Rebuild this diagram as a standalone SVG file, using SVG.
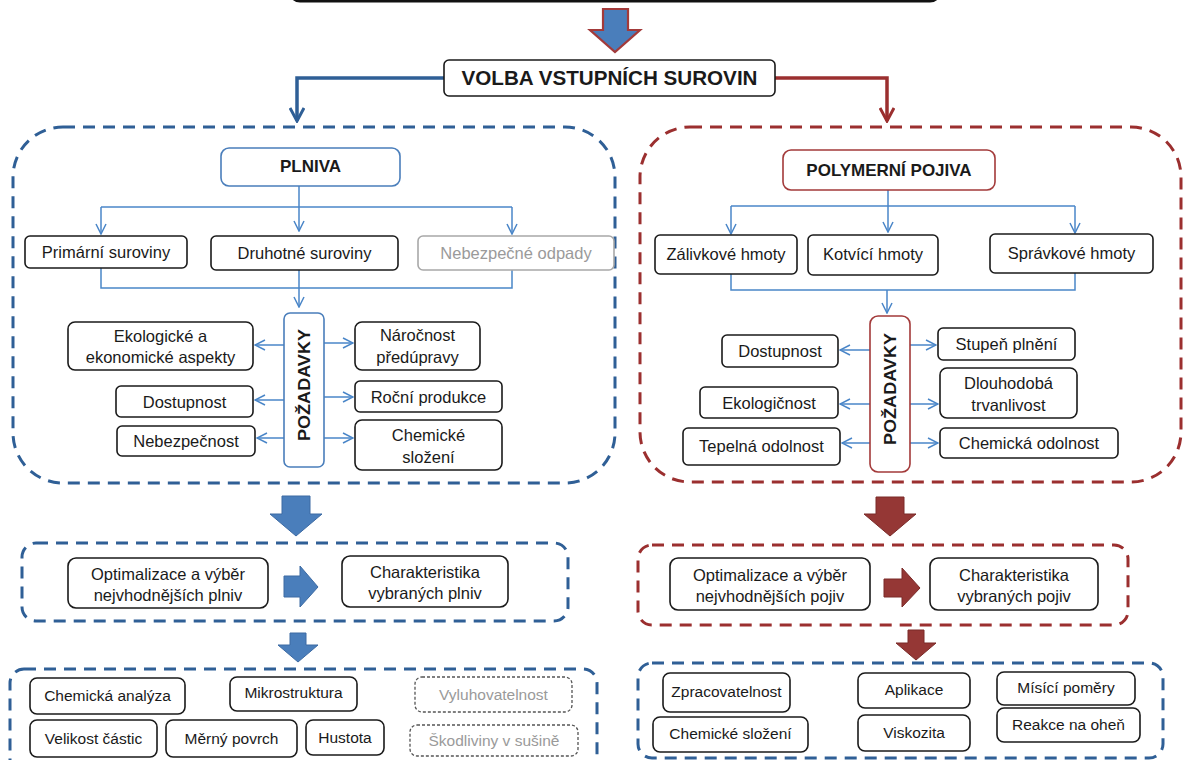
<svg xmlns="http://www.w3.org/2000/svg" width="1192" height="760" viewBox="0 0 1192 760">
  <defs>
    <style>
      text { font-family: "Liberation Sans", Arial, sans-serif; font-size: 16.5px; fill: #1a1a1a; text-anchor: middle; }
      .b { font-weight: bold; font-size: 17px; }
      .sm { font-size: 15.5px; }
      .gray { fill: #9a9a9a; }
      .box { fill: #fff; stroke: #1a1a1a; stroke-width: 1.6; }
      .gbox { fill: #fff; stroke: #a8a8a8; stroke-width: 1.6; }
      .dbox { fill: #fff; stroke: #555; stroke-width: 1.3; stroke-dasharray: 3 2; }
      .bluebox { fill: #fff; stroke: #4a7ebb; stroke-width: 1.6; }
      .redbox { fill: #fff; stroke: #a33a3a; stroke-width: 1.6; }
      .panelB { fill: none; stroke: #2f5f96; stroke-width: 3; stroke-dasharray: 12 8; }
      .panelR { fill: none; stroke: #9b2f2f; stroke-width: 3; stroke-dasharray: 12 8; }
      .thin { fill: none; stroke: #4a86c8; stroke-width: 1.5; }
      .mainB { fill: none; stroke: #2f5f96; stroke-width: 3.5; }
      .mainR { fill: none; stroke: #9b2f2f; stroke-width: 3.5; }
      .blkB { fill: #4a7ebb; stroke: #3c6aa3; stroke-width: 1; }
      .blkR { fill: #953735; stroke: #7a2a28; stroke-width: 1; }
      .blkTop { fill: #4a7ebb; stroke: #a33a3a; stroke-width: 2.2; }
    </style>
    <marker id="ah" viewBox="0 0 12 12" refX="11" refY="6" markerWidth="12" markerHeight="12" markerUnits="userSpaceOnUse" orient="auto">
      <path d="M1,1 L11,6 L1,11" fill="none" stroke="#4a86c8" stroke-width="1.5"/>
    </marker>
    <marker id="ahB" viewBox="0 0 16 16" refX="14" refY="8" markerWidth="16" markerHeight="16" markerUnits="userSpaceOnUse" orient="auto">
      <path d="M1,1 L14,8 L1,15" fill="none" stroke="#2f5f96" stroke-width="3"/>
    </marker>
    <marker id="ahR" viewBox="0 0 16 16" refX="14" refY="8" markerWidth="16" markerHeight="16" markerUnits="userSpaceOnUse" orient="auto">
      <path d="M1,1 L14,8 L1,15" fill="none" stroke="#9b2f2f" stroke-width="3"/>
    </marker>
  </defs>

  <rect width="1192" height="760" fill="#fff"/>

  <!-- header box (only its lower edge is in view) -->
  <g id="header">
    <rect x="290" y="-40" width="650" height="41" rx="10" fill="#fff" stroke="#111" stroke-width="3"/>
  </g>

  <!-- panels -->
  <g id="panels">
    <rect id="panel-plniva" class="panelB" x="13" y="127" width="602" height="356" rx="50"/>
    <rect id="panel-pojiva" class="panelR" x="640" y="127" width="541" height="355" rx="50"/>
    <rect id="panel-opt-plniva" class="panelB" x="22" y="543" width="546" height="78" rx="14"/>
    <rect id="panel-opt-pojiva" class="panelR" x="638" y="545" width="490" height="80" rx="14"/>
    <rect id="panel-char-plniva" class="panelB" x="10" y="669" width="587" height="110" rx="14"/>
    <rect id="panel-char-pojiva" class="panelB" x="638" y="663" width="525" height="95" rx="14"/>
  </g>

  <!-- connectors -->
  <g id="connectors">
    <polygon class="blkTop" points="603,9 628,9 628,30 640,30 615,52 590,30 603,30"/>
    <path class="mainB" d="M444,78 H297 V121" marker-end="url(#ahB)"/>
    <path class="mainR" d="M775,78 H887 V121" marker-end="url(#ahR)"/>

    <!-- plniva tree -->
    <path class="thin" d="M299,186 V231" marker-end="url(#ah)"/>
    <path class="thin" d="M101,207 H512"/>
    <path class="thin" d="M101,207 V234" marker-end="url(#ah)"/>
    <path class="thin" d="M512,207 V234" marker-end="url(#ah)"/>
    <path class="thin" d="M101,268 V288 H512 V270"/>
    <path class="thin" d="M299,270 V307" marker-end="url(#ah)"/>
    <path class="thin" d="M284,345 H255" marker-end="url(#ah)"/>
    <path class="thin" d="M284,400 H255" marker-end="url(#ah)"/>
    <path class="thin" d="M284,438 H257" marker-end="url(#ah)"/>
    <path class="thin" d="M324,343 H353" marker-end="url(#ah)"/>
    <path class="thin" d="M324,397 H353" marker-end="url(#ah)"/>
    <path class="thin" d="M324,438 H353" marker-end="url(#ah)"/>

    <!-- pojiva tree -->
    <path class="thin" d="M888,190 V232" marker-end="url(#ah)"/>
    <path class="thin" d="M731,206 H1075"/>
    <path class="thin" d="M731,206 V234" marker-end="url(#ah)"/>
    <path class="thin" d="M1075,206 V233" marker-end="url(#ah)"/>
    <path class="thin" d="M731,274 V290 H1075 V273"/>
    <path class="thin" d="M887,290 V313" marker-end="url(#ah)"/>
    <path class="thin" d="M870,350 H840" marker-end="url(#ah)"/>
    <path class="thin" d="M870,404 H840" marker-end="url(#ah)"/>
    <path class="thin" d="M870,443 H842" marker-end="url(#ah)"/>
    <path class="thin" d="M910,345 H936" marker-end="url(#ah)"/>
    <path class="thin" d="M910,404 H938" marker-end="url(#ah)"/>
    <path class="thin" d="M910,443 H938" marker-end="url(#ah)"/>

    <!-- block arrows -->
    <polygon class="blkB" points="282,496 310,496 310,514 322,514 296,536 270,514 282,514"/>
    <polygon class="blkR" points="876,497 904,497 904,514 916,514 890,536 864,514 876,514"/>
    <polygon class="blkB" points="284,576 300,576 300,566 318,587 300,607 300,597 284,597"/>
    <polygon class="blkR" points="884,579 902,579 902,568 920,588 902,607 902,597 884,597"/>
    <polygon class="blkB" points="290,633 306,633 306,645 318,645 298,662 278,645 290,645"/>
    <polygon class="blkR" points="908,630 924,630 924,643 936,643 916,660 896,643 908,643"/>
  </g>

  <g id="volba">
    <rect class="box" x="444" y="60" width="331" height="36" rx="5"/>
    <text class="b" x="609.5" y="85" style="font-size:20px" textLength="296" lengthAdjust="spacingAndGlyphs">VOLBA VSTUPNÍCH SUROVIN</text>
  </g>

  <!-- plniva panel -->
  <g id="plniva">
    <rect class="bluebox" x="221" y="148" width="179" height="38" rx="8"/>
    <text class="b" x="310.5" y="172">PLNIVA</text>
  </g>
  <g id="primarni"><rect class="box" x="25" y="236" width="162" height="32" rx="5"/><text x="106" y="258">Primární suroviny</text></g>
  <g id="druhotne"><rect class="box" x="211" y="236" width="187" height="34" rx="5"/><text x="304.5" y="259">Druhotné suroviny</text></g>
  <g id="nebezpecne-odpady"><rect class="gbox" x="418" y="236" width="196" height="34" rx="5"/><text class="gray" x="516" y="259">Nebezpečné odpady</text></g>
  <g id="pozadavky-plniva">
    <rect class="bluebox" x="284" y="313" width="40" height="154" rx="6"/>
    <text class="b" transform="translate(310,385) rotate(-90)" textLength="112" lengthAdjust="spacingAndGlyphs">POŽADAVKY</text>
  </g>
  <g id="ekolog-aspekty"><rect class="box" x="68" y="322" width="185" height="48" rx="7"/><text x="160.5" y="342">Ekologické a</text><text x="160.5" y="363">ekonomické aspekty</text></g>
  <g id="dostupnost-p"><rect class="box" x="116" y="386" width="137" height="31" rx="5"/><text x="184.5" y="408">Dostupnost</text></g>
  <g id="nebezpecnost"><rect class="box" x="117" y="426" width="138" height="30" rx="5"/><text x="186" y="447">Nebezpečnost</text></g>
  <g id="narocnost"><rect class="box" x="355" y="322" width="125" height="48" rx="7"/><text x="417.5" y="341">Náročnost</text><text x="417.5" y="363">předúpravy</text></g>
  <g id="rocni-produkce"><rect class="box" x="355" y="381" width="147" height="31" rx="5"/><text x="428.5" y="403">Roční produkce</text></g>
  <g id="chem-slozeni-p"><rect class="box" x="355" y="420" width="147" height="50" rx="7"/><text x="428.5" y="441">Chemické</text><text x="428.5" y="463">složení</text></g>

  <!-- pojiva panel -->
  <g id="pojiva">
    <rect class="redbox" x="783" y="150" width="212" height="40" rx="8"/>
    <text class="b" x="889" y="176">POLYMERNÍ POJIVA</text>
  </g>
  <g id="zalivkove"><rect class="box" x="655" y="235" width="142" height="39" rx="5"/><text x="726" y="260">Zálivkové hmoty</text></g>
  <g id="kotvici"><rect class="box" x="808" y="235" width="130" height="40" rx="5"/><text x="873" y="260">Kotvící hmoty</text></g>
  <g id="spravkove"><rect class="box" x="990" y="234" width="163" height="39" rx="5"/><text x="1071.5" y="259">Správkové hmoty</text></g>
  <g id="pozadavky-pojiva">
    <rect class="redbox" x="870" y="316" width="40" height="156" rx="8"/>
    <text class="b" transform="translate(896,389) rotate(-90)" textLength="112" lengthAdjust="spacingAndGlyphs">POŽADAVKY</text>
  </g>
  <g id="dostupnost-j"><rect class="box" x="722" y="335" width="116" height="32" rx="5"/><text x="780" y="357">Dostupnost</text></g>
  <g id="ekologicnost"><rect class="box" x="700" y="387" width="138" height="31" rx="5"/><text x="769" y="409">Ekologičnost</text></g>
  <g id="tepelna"><rect class="box" x="683" y="428" width="157" height="37" rx="5"/><text x="761.5" y="452">Tepelná odolnost</text></g>
  <g id="stupen"><rect class="box" x="938" y="328" width="137" height="32" rx="5"/><text x="1006.5" y="350">Stupeň plnění</text></g>
  <g id="dlouhodoba"><rect class="box" x="940" y="368" width="137" height="50" rx="7"/><text x="1008.5" y="389">Dlouhodobá</text><text x="1008.5" y="411">trvanlivost</text></g>
  <g id="chem-odolnost"><rect class="box" x="940" y="428" width="178" height="30" rx="5"/><text x="1029" y="449">Chemická odolnost</text></g>

  <!-- selection rows -->
  <g id="opt-plniv"><rect class="box" x="68" y="558" width="200" height="50" rx="8"/><text x="168" y="580">Optimalizace a výběr</text><text x="168" y="601">nejvhodnějších plniv</text></g>
  <g id="char-plniv"><rect class="box" x="342" y="556" width="166" height="51" rx="8"/><text x="425" y="578">Charakteristika</text><text x="425" y="599">vybraných plniv</text></g>
  <g id="opt-pojiv"><rect class="box" x="670" y="558" width="200" height="52" rx="8"/><text x="770" y="581">Optimalizace a výběr</text><text x="770" y="602">nejvhodnějších pojiv</text></g>
  <g id="char-pojiv"><rect class="box" x="930" y="558" width="168" height="52" rx="8"/><text x="1014" y="581">Charakteristika</text><text x="1014" y="602">vybraných pojiv</text></g>

  <!-- filler characterisation -->
  <g id="chem-analyza"><rect class="box" x="30" y="678" width="155" height="36" rx="7"/><text class="sm" x="107.5" y="701">Chemická analýza</text></g>
  <g id="mikrostruktura"><rect class="box" x="230" y="677" width="127" height="34" rx="7"/><text class="sm" x="293.5" y="698">Mikrostruktura</text></g>
  <g id="vyluhovatelnost"><rect class="dbox" x="415" y="677" width="157" height="35" rx="7"/><text class="sm gray" x="493.5" y="700">Vyluhovatelnost</text></g>
  <g id="velikost"><rect class="box" x="30" y="720" width="127" height="37" rx="7"/><text class="sm" x="93.5" y="744">Velikost částic</text></g>
  <g id="merny-povrch"><rect class="box" x="166" y="720" width="131" height="37" rx="7"/><text class="sm" x="231.5" y="744">Měrný povrch</text></g>
  <g id="hustota"><rect class="box" x="306" y="720" width="78" height="35" rx="7"/><text class="sm" x="345" y="743">Hustota</text></g>
  <g id="skodliviny"><rect class="dbox" x="410" y="725" width="168" height="31" rx="7"/><text class="sm gray" x="494" y="746">Škodliviny v sušině</text></g>

  <!-- binder characterisation -->
  <g id="zpracovatelnost"><rect class="box" x="663" y="673" width="127" height="39" rx="7"/><text class="sm" x="726.5" y="697">Zpracovatelnost</text></g>
  <g id="aplikace"><rect class="box" x="858" y="673" width="112" height="35" rx="7"/><text class="sm" x="914" y="695">Aplikace</text></g>
  <g id="misici"><rect class="box" x="997" y="672" width="138" height="33" rx="7"/><text class="sm" x="1066" y="693">Mísící poměry</text></g>
  <g id="chem-slozeni-j"><rect class="box" x="653" y="717" width="155" height="35" rx="7"/><text class="sm" x="730.5" y="739">Chemické složení</text></g>
  <g id="viskozita"><rect class="box" x="858" y="715" width="112" height="36" rx="7"/><text class="sm" x="914" y="738">Viskozita</text></g>
  <g id="reakce"><rect class="box" x="997" y="708" width="143" height="34" rx="7"/><text class="sm" x="1068.5" y="730">Reakce na oheň</text></g>
</svg>
